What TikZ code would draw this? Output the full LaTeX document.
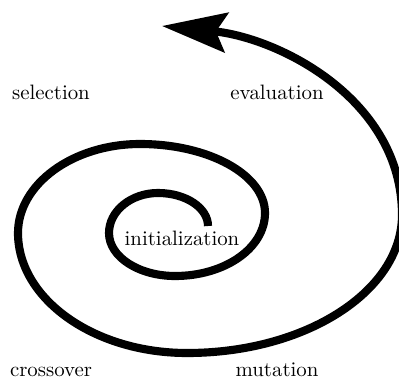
\documentclass[tikz,border=0pt]{standalone}
\usetikzlibrary{arrows.meta}
\begin{document}
\begin{tikzpicture}[x=0.48pt,y=-0.48pt,
  spiral/.style={line width=3.9pt, line cap=butt, -{Stealth[length=31pt,width=19pt,inset=5pt]}},
  lbl/.style={anchor=base, inner sep=0pt}]
\useasboundingbox (0,0) rectangle (399,377);
\coordinate (s) at (208,226);
\coordinate (t1) at (158,193);
\coordinate (l1) at (109,233);
\coordinate (b1) at (175,276);
\coordinate (r1) at (265,213);
\coordinate (t2) at (140,144);
\coordinate (l2) at (18,233);
\coordinate (b2) at (187,353);
\coordinate (r2) at (402,215);
\coordinate (tip) at (162,26);
\draw[spiral] (s) .. controls (208,208) and (186,193) .. (t1)
 .. controls (131,193) and (109,211) .. (l1)
 .. controls (109,257) and (139,276) .. (b1)
 .. controls (225,276) and (265,248) .. (r1)
 .. controls (265,175) and (209,144) .. (t2)
 .. controls (73,144) and (18,184) .. (l2)
 .. controls (18,299) and (94,353) .. (b2)
 .. controls (306,353) and (402,291) .. (r2)
 .. controls (402,100) and (280,38) .. (tip);
\node[lbl] (init) at (182,245) {initialization};
\node[lbl] (sel) at (51,100) {selection};
\node[lbl] (eval) at (277,100) {evaluation};
\node[lbl] (cross) at (51,376) {crossover};
\node[lbl] (mut) at (277,376) {mutation};
\end{tikzpicture}
\end{document}
